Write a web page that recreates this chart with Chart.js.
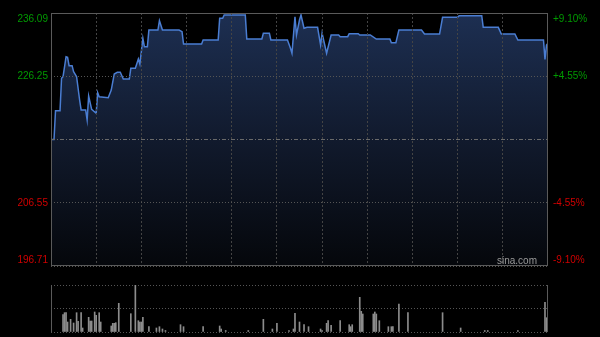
<!DOCTYPE html>
<html>
<head>
<meta charset="utf-8">
<script src="https://cdn.jsdelivr.net/npm/chart.js@4/dist/chart.umd.min.js"></script>
<style>
  html, body { margin: 0; padding: 0; background: #000; }
  #wrap { position: relative; width: 600px; height: 337px; overflow: hidden; }
  #priceChart { position: absolute; left: 0; top: 0; }
  #volChart { position: absolute; left: 0; top: 280px; }
</style>
</head>
<body>
<div id="wrap">
  <canvas id="priceChart" width="600" height="280"></canvas>
  <canvas id="volChart" width="600" height="57"></canvas>
</div>
<script>
// Intraday data (minutes from 9:30, HK session = 330 trading minutes)
const prevClose = 216.40;
const yTicks = [196.71, 206.55, 216.40, 226.25, 236.09];
const xTicks = [30, 60, 90, 120, 150, 180, 210, 240, 270, 300];

const priceMinutes = [0, 2, 3, 6, 7, 8, 10, 11, 12, 14, 15, 17, 19, 20, 23, 24, 25, 27, 30, 31, 32, 38, 40, 42, 44, 46, 48, 52, 53, 56,
  58, 59, 61, 62, 64, 65, 71, 72, 74, 85, 87, 88, 100, 101, 111, 112, 114, 115, 129, 130, 140, 141, 145, 146, 157, 159, 160, 162, 163, 165,
  166, 168, 170, 177, 179, 180, 181, 183, 186, 191, 192, 197, 198, 204, 205, 212, 216, 225, 226, 229, 231, 246, 248, 258, 260, 270, 271,
  286, 287, 297, 299, 308, 310, 327, 328, 329, 330];
const prices = [216.40, 216.40, 220.88, 220.88, 225.93, 226.18, 229.29, 229.20, 227.89, 227.89, 226.95, 226.17, 222.55, 221.00, 221.00,
  219.44, 223.17, 221.10, 220.48, 223.69, 223.06, 222.91, 224.10, 226.60, 226.86, 226.86, 225.82, 225.82, 227.48, 227.48,
  228.93, 228.15, 232.15, 230.85, 230.85, 233.44, 233.44, 234.89, 233.44, 233.44, 233.18, 231.27, 231.27, 231.89, 231.89, 235.27, 235.27,
  235.78, 235.78, 232.04, 232.04, 232.93, 232.93, 231.89, 231.89, 230.60, 229.82, 235.51, 232.67, 235.00,
  235.78, 233.71, 233.86, 233.86, 231.11, 232.93, 231.89, 229.82, 232.67, 232.67, 232.40, 232.40, 232.87, 232.87, 232.67, 232.67,
  232.04, 232.04, 231.47, 231.47, 233.44, 233.44, 232.82, 232.82, 235.42, 235.42, 235.67,
  235.67, 233.86, 233.86, 232.82, 232.82, 231.89, 231.89, 228.88, 231.10, 231.37];

const volMinutes = [8, 9, 10, 11, 13, 15, 17, 18, 20, 21, 25, 26, 27, 29, 30, 32, 33, 40, 41, 42, 43, 45, 53, 56, 58, 59, 60, 61, 65, 70,
  72, 74, 76, 86, 88, 101, 112, 113, 116, 131, 141, 147, 150, 158, 161, 162, 165, 168, 171, 179, 180, 183, 184, 186, 192, 198, 199, 200,
  205, 206, 207, 214, 215, 216, 218, 224, 226, 227, 231, 237, 260, 272, 288, 290, 310, 328, 329];
const volumes = [173, 193, 193, 100, 127, 90, 193, 107, 193, 40, 147, 110, 110, 200, 167, 193, 100, 60, 87, 87, 93, 287, 183, 470, 113, 100, 100, 147, 53, 40,
  53, 30, 15, 73, 53, 53, 60, 30, 15, 15, 127, 30, 87, 15, 30, 187, 100, 73, 53, 30, 15, 87, 113, 67, 113, 73, 53, 73,
  347, 207, 180, 180, 200, 180, 113, 53, 53, 53, 280, 193, 193, 40, 15, 15, 15, 297, 143];
const volMax = 470;

function squeezedText(ctx, text, x, y, align, color) {
  ctx.save();
  ctx.translate(x, y);
  ctx.scale(0.91, 1);
  ctx.textAlign = align;
  ctx.fillStyle = color;
  ctx.fillText(text, 0, 0);
  ctx.restore();
}

const sideLabels = {
  id: 'sideLabels',
  afterDraw(chart) {
    const { ctx, chartArea: a, scales: { y } } = chart;
    ctx.save();
    ctx.strokeStyle = '#5a5a5a';
    ctx.lineWidth = 1;
    ctx.strokeRect(Math.round(a.left) + 0.5, Math.round(a.top) + 0.5,
      Math.round(a.right - a.left) - 1, Math.round(a.bottom - a.top) - 1);
    ctx.font = '11px "Liberation Sans", Arial, sans-serif';
    ctx.textBaseline = 'middle';
    yTicks.forEach(v => {
      if (v === prevClose) return;
      let py = y.getPixelForValue(v);
      py = Math.min(Math.max(py, a.top + 6), a.bottom - 6);
      const col = v > prevClose ? '#009a00' : '#d00000';
      const pct = (v - prevClose) / prevClose * 100;
      squeezedText(ctx, v.toFixed(2), a.left - 3, py, 'right', col);
      squeezedText(ctx, (pct > 0 ? '+' : '') + pct.toFixed(2) + '%', a.right + 5, py, 'left', col);
    });
    squeezedText(ctx, 'sina.com', a.right - 11, a.bottom - 5, 'right', '#9a9a9a');
    ctx.restore();
  }
};

const volBorders = {
  id: 'volBorders',
  afterDraw(chart) {
    const { ctx, chartArea: a } = chart;
    ctx.save();
    ctx.strokeStyle = '#5a5a5a';
    ctx.lineWidth = 1;
    ctx.beginPath();
    ctx.moveTo(Math.round(a.left) + 0.5, a.top);
    ctx.lineTo(Math.round(a.left) + 0.5, a.bottom);
    ctx.moveTo(Math.round(a.right) - 0.5, a.top);
    ctx.lineTo(Math.round(a.right) - 0.5, a.bottom);
    ctx.stroke();
    ctx.restore();
  }
};

new Chart(document.getElementById('priceChart'), {
  type: 'line',
  data: {
    datasets: [{
      data: priceMinutes.map((m, i) => ({ x: m, y: prices[i] })),
      borderColor: '#4a7dd2',
      borderWidth: 1.5,
      pointRadius: 0,
      tension: 0,
      fill: 'start',
      backgroundColor: (c) => {
        const area = c.chart.chartArea;
        if (!area) return 'rgba(20,35,65,0.8)';
        const g = c.chart.ctx.createLinearGradient(0, area.top, 0, area.bottom);
        g.addColorStop(0, '#1d2f52');
        g.addColorStop(0.5, '#111a2d');
        g.addColorStop(1, '#05070b');
        return g;
      }
    }]
  },
  options: {
    responsive: false,
    animation: false,
    events: [],
    layout: { padding: { left: 51, right: 52, top: 13, bottom: 14 } },
    plugins: { legend: { display: false }, tooltip: { enabled: false } },
    scales: {
      x: {
        type: 'linear', min: 0, max: 330,
        afterBuildTicks: s => { s.ticks = xTicks.map(v => ({ value: v })); },
        ticks: { display: false },
        grid: { color: '#444', drawTicks: false, z: 1 },
        border: { display: false, dash: [2, 2] }
      },
      y: {
        min: 196.71, max: 236.09,
        afterBuildTicks: s => { s.ticks = yTicks.map(v => ({ value: v })); },
        ticks: { display: false },
        grid: { color: c => (c.tick && c.tick.value === prevClose ? '#6a6a6a' : '#555'), drawTicks: false, z: 1 },
        border: { display: false, dash: c => (c.tick && c.tick.value === prevClose ? [4, 2, 1, 2] : [1, 2]) }
      }
    }
  },
  plugins: [sideLabels]
});

new Chart(document.getElementById('volChart'), {
  type: 'bar',
  data: {
    datasets: [{
      data: volMinutes.map((m, i) => ({ x: m, y: volumes[i] })),
      backgroundColor: '#8c8c8c',
      barThickness: 1
    }]
  },
  options: {
    responsive: false,
    animation: false,
    events: [],
    layout: { padding: { left: 51, right: 52, top: 5, bottom: 5 } },
    plugins: { legend: { display: false }, tooltip: { enabled: false } },
    scales: {
      x: {
        type: 'linear', min: 0, max: 330, offset: false,
        ticks: { display: false },
        grid: { display: false, drawTicks: false, offset: false },
        border: { display: false }
      },
      y: {
        min: 0, max: volMax,
        afterBuildTicks: s => { s.ticks = [0, volMax / 2, volMax].map(v => ({ value: v })); },
        ticks: { display: false },
        grid: { color: '#555', drawTicks: false },
        border: { display: false, dash: [1, 2] }
      }
    }
  },
  plugins: [volBorders]
});
</script>
</body>
</html>
